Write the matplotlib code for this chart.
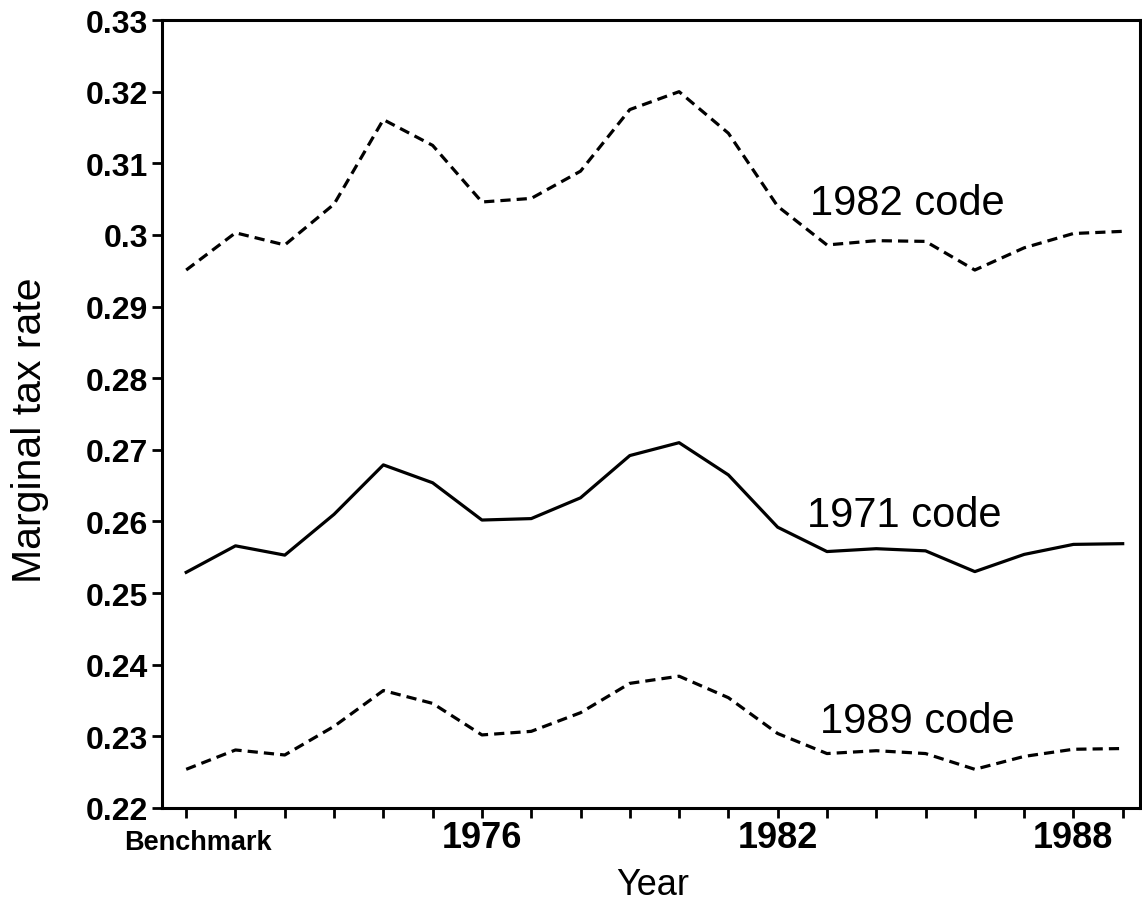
import matplotlib
matplotlib.use("Agg")
import matplotlib.pyplot as plt
from matplotlib.ticker import FixedLocator
from matplotlib.transforms import ScaledTranslation

plt.rcParams['font.family'] = ['Liberation Sans', 'DejaVu Sans']

# positions 0..19: benchmark, then 1971-1989
pos = list(range(20))
tick_pos = [0, 6, 12, 18]
tick_labels = ['Benchmark', '1976', '1982', '1988']

code_1982 = [0.2951, 0.3003, 0.2986, 0.3043, 0.3161, 0.3125, 0.3046, 0.3051, 0.3089, 0.3175,
             0.3200, 0.3142, 0.3040, 0.2986, 0.2992, 0.2991, 0.2951, 0.2982, 0.3002, 0.3005]
code_1971 = [0.2529, 0.2566, 0.2553, 0.2610, 0.2679, 0.2654, 0.2602, 0.2604, 0.2633, 0.2692,
             0.2710, 0.2665, 0.2592, 0.2558, 0.2562, 0.2559, 0.2530, 0.2554, 0.2568, 0.2569]
code_1989 = [0.2254, 0.2281, 0.2274, 0.2314, 0.2364, 0.2346, 0.2302, 0.2307, 0.2333, 0.2374,
             0.2384, 0.2354, 0.2304, 0.2276, 0.2280, 0.2276, 0.2254, 0.2272, 0.2282, 0.2283]

series_names = ['1982 code', '1971 code', '1989 code']
label_x = [12.65, 12.6, 12.85]
label_y = [0.3044, 0.2609, 0.2321]

fig = plt.figure(figsize=(11.42, 9.03), dpi=100)
ax = fig.add_axes([0.1419, 0.1041, 0.8563, 0.8726])

dash = (3.2, 1.9)
ax.plot(pos, code_1982, color='black', lw=2.3, linestyle=(0, dash))
ax.plot(pos, code_1971, color='black', lw=2.3, linestyle='-')
ax.plot(pos, code_1989, color='black', lw=2.3, linestyle=(0, dash))

for name, lx, ly in zip(series_names, label_x, label_y):
	ax.text(lx, ly, name, fontsize=30, ha='left', va='center')

ax.set_xlim(-0.49, 19.35)
ax.set_ylim(0.22, 0.33)

ax.set_yticks([0.22 + 0.01 * i for i in range(12)])
ax.set_yticklabels(['0.22', '0.23', '0.24', '0.25', '0.26', '0.27', '0.28', '0.29', '0.3',
                    '0.31', '0.32', '0.33'], fontsize=23, fontweight='bold')

ax.xaxis.set_major_locator(FixedLocator(tick_pos))
ax.xaxis.set_minor_locator(FixedLocator(pos))
ax.set_xticklabels(tick_labels, fontweight='bold')

ax.tick_params(axis='both', which='both', direction='out', width=2, length=7, pad=3)
ax.tick_params(axis='x', which='major', pad=2)

# benchmark label is smaller and sits a bit right of / below its tick
for lab in ax.get_xticklabels():
	if lab.get_text() == 'Benchmark':
		lab.set_fontsize(19.5)
		lab.set_transform(lab.get_transform() + ScaledTranslation(0.12, -0.09, fig.dpi_scale_trans))
	else:
		lab.set_fontsize(26)

for s in ax.spines.values():
	s.set_linewidth(2.2)

ax.set_ylabel('Marginal tax rate', fontsize=29.5)
ax.yaxis.set_label_coords(-0.116, 0.481)
ax.set_xlabel('Year', fontsize=26)
ax.xaxis.set_label_coords(0.502, -0.0743)

fig.savefig('out.png', dpi=100)
